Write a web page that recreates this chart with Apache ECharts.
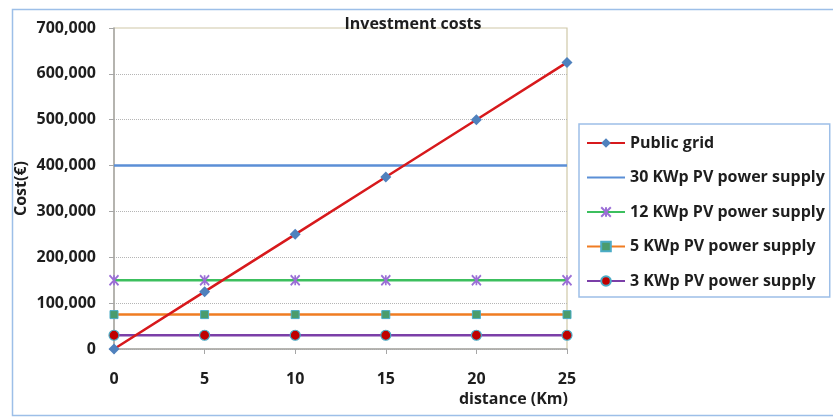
<!DOCTYPE html>
<html><head><meta charset="utf-8">
<script src="https://cdn.jsdelivr.net/npm/echarts@6/dist/echarts.min.js"></script>
<style>html,body{margin:0;padding:0;background:#fff}#c{width:833px;height:419px}</style>
</head><body><div id="c"></div>
<script>
const distance = [0, 5, 10, 15, 20, 25];
const publicGrid = [0, 125000, 250000, 375000, 500000, 625000];
const pv30 = [400000, 400000, 400000, 400000, 400000, 400000];
const pv12 = [150000, 150000, 150000, 150000, 150000, 150000];
const pv5 = [75000, 75000, 75000, 75000, 75000, 75000];
const pv3 = [30000, 30000, 30000, 30000, 30000, 30000];
const seriesNames = ['Public grid', '30 KWp PV power supply', '12 KWp PV power supply', '5 KWp PV power supply', '3 KWp PV power supply'];

const pair = (ys) => distance.map((d, i) => [d, ys[i]]);
const FONT = '"Open Sans"';
const TXT = '#1e1e1e';
const txt = (extra) => Object.assign({fontFamily: FONT, fontSize: 16, fontWeight: 'bold', color: TXT}, extra || {});

const chart = echarts.init(document.getElementById('c'), null, {renderer: 'canvas'});
chart.setOption({
  animation: false,
  backgroundColor: '#fff',
  title: {
    text: 'Investment costs', left: 408, top: 11, textAlign: 'center',
    textStyle: txt()
  },
  graphic: [{
    type: 'rect', left: 10, top: 7, silent: true,
    shape: {width: 830, height: 406},
    style: {fill: 'none', stroke: '#9dbfe8', lineWidth: 1.5}
  }],
  grid: {left: 114, right: 266, top: 28, bottom: 70, show: true, borderColor: '#cfc8a8', borderWidth: 1.2, containLabel: false},
  legend: {
    orient: 'vertical', left: 579, top: 124,
    padding: [11, 5, 8, 7],
    borderColor: '#9dbfe8', borderWidth: 1.5,
    itemWidth: 38, itemHeight: 12, itemGap: 18.5,
    textStyle: txt({lineHeight: 16}),
    data: seriesNames.map((n, i) => i === 1 ? {name: n, itemStyle: {opacity: 0}} : n)
  },
  xAxis: {
    type: 'value', min: 0, max: 25, interval: 5,
    name: 'distance (Km)', nameLocation: 'end', nameGap: 1, nameMoveOverlap: false,
    nameTextStyle: txt({align: 'right', verticalAlign: 'top', padding: [42, 0, 0, 0]}),
    axisLine: {lineStyle: {color: '#a6a6a6', width: 1.5}},
    axisTick: {show: true, inside: false, length: 5, lineStyle: {color: '#a6a6a6'}},
    axisLabel: txt({margin: 22}),
    splitLine: {show: false}
  },
  yAxis: {
    type: 'value', min: 0, max: 700000, interval: 100000,
    name: 'Cost(€)', nameLocation: 'middle', nameGap: 85, nameRotate: 90, nameMoveOverlap: false,
    nameTextStyle: txt(),
    axisLine: {show: true, lineStyle: {color: '#a6a6a6', width: 1.5}},
    axisTick: {show: true, inside: false, length: 5, lineStyle: {color: '#a6a6a6'}},
    axisLabel: txt({margin: 18, formatter: v => v.toLocaleString('en-US')}),
    splitLine: {show: true, showMaxLine: false, lineStyle: {color: '#b5b5b5', type: 'dotted', width: 1}}
  },
  series: [
    {name: seriesNames[0], type: 'line', data: pair(publicGrid), z: 6,
     symbol: 'diamond', symbolSize: 11,
     lineStyle: {color: '#d7191c', width: 2.5},
     itemStyle: {color: '#4f81bd'}},
    {name: seriesNames[1], type: 'line', data: pair(pv30), z: 2,
     symbol: 'none',
     lineStyle: {color: '#5b8fd6', width: 2.5},
     itemStyle: {color: '#5b8fd6'}},
    {name: seriesNames[2], type: 'line', data: pair(pv12), z: 3,
     symbol: 'path://M0,0L8,10M8,0L0,10M4,0L4,10', symbolSize: [9, 10],
     lineStyle: {color: '#3cbf5e', width: 2.5},
     itemStyle: {color: 'rgba(0,0,0,0)', borderColor: '#9b6fd6', borderWidth: 1.8}},
    {name: seriesNames[3], type: 'line', data: pair(pv5), z: 4,
     symbol: 'rect', symbolSize: 8,
     lineStyle: {color: '#f07c22', width: 2.5},
     itemStyle: {color: '#4a9c6c', borderColor: '#4bacc6', borderWidth: 1}},
    {name: seriesNames[4], type: 'line', data: pair(pv3), z: 5,
     symbol: 'circle', symbolSize: 10,
     lineStyle: {color: '#7b3fa8', width: 2.5},
     itemStyle: {color: '#c00000', borderColor: '#4bacc6', borderWidth: 1.2}}
  ]
});
</script></body></html>
